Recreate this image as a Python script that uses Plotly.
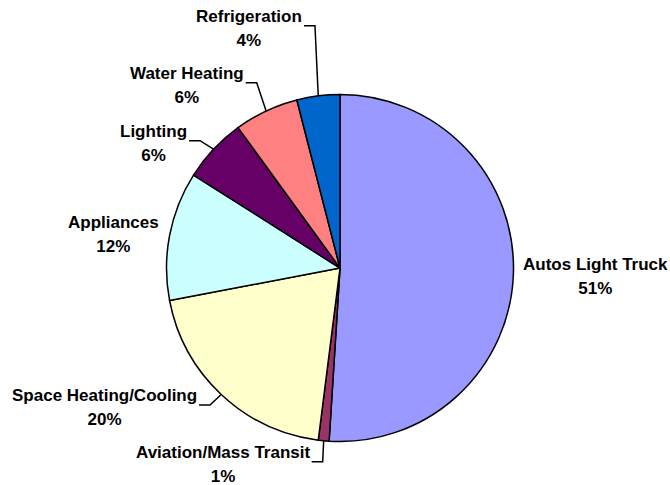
import math
import plotly.graph_objects as go

# ---- data ----
categories = ["Autos Light Truck", "Aviation/Mass Transit", "Space Heating/Cooling",
              "Appliances", "Lighting", "Water Heating", "Refrigeration"]
shares = [51, 1, 20, 12, 6, 6, 4]
colors = ["#9999FF", "#993366", "#FFFFCC", "#CCFFFF", "#660066", "#FF8080", "#0066CC"]

# ---- layout / style ----
W, H = 670, 485
CX, CY, R = 340, 268, 173.5          # pie centre and radius in pixels
FONT = "Liberation Sans, Arial, sans-serif"
LEAD_LEN = 11                        # horizontal part of leader line
# (kind, dx, dy) offsets in pixels from the slice's mid-edge point
label_style = {
    "Autos Light Truck": ("left", 9.9, -8.9),
    "Aviation/Mass Transit": ("leader", -1.0, 21.0),
    "Space Heating/Cooling": ("leader", -11.2, 10.5),
    "Appliances": ("right", -10.3, -12.5),
    "Lighting": ("leader", -13.5, -8.5),
    "Water Heating": ("leader", -9.4, -28.3),
    "Refrigeration": ("leader", -3.3, -70.2),
}


def px(x):
    return x / W


def py(y):
    return 1 - y / H


fig = go.Figure(go.Pie(
    labels=categories,
    values=shares,
    sort=False,
    direction="clockwise",
    rotation=0,
    marker=dict(colors=colors, line=dict(color="black", width=1.5)),
    textinfo="none",
    hoverinfo="label+percent",
    showlegend=False,
    domain=dict(x=[px(CX - R), px(CX + R)], y=[py(CY + R), py(CY - R)]),
))

total = sum(shares)
cum = 0.0
annotations = []
shapes = []
for name, val in zip(categories, shares):
    mid = (cum + val / 2) / total * 2 * math.pi
    cum += val
    ax = CX + R * math.sin(mid)
    ay = CY - R * math.cos(mid)
    kind, dx, dy = label_style[name]
    text = (f"<span style='font-size:17px'>{name}</span><br>"
            f"<span style='font-size:17px'>{val}%</span>")
    if kind == "leader":
        ex, ey = ax + dx, ay + dy
        tx = ex - LEAD_LEN
        shapes.append(dict(
            type="path", xref="paper", yref="paper",
            path=f"M {px(ax)} {py(ay)} L {px(ex)} {py(ey)} L {px(tx)} {py(ey)}",
            line=dict(color="black", width=1.5),
        ))
        x_text, xanchor = tx - 2, "right"
        yname = ey - 9
    elif kind == "right":
        x_text, xanchor = ax + dx, "right"
        yname = ay + dy
    else:
        x_text, xanchor = ax + dx, "left"
        yname = ay + dy
    annotations.append(dict(
        x=px(x_text), y=py(yname + 12), xref="paper", yref="paper",
        xanchor=xanchor, yanchor="middle", align="center",
        text=text, showarrow=False, borderpad=0, borderwidth=0,
        font=dict(family=FONT, size=18.5, color="black", weight="bold"),
    ))

fig.update_layout(
    width=W, height=H, autosize=False,
    margin=dict(l=0, r=0, t=0, b=0),
    paper_bgcolor="white", plot_bgcolor="white",
    annotations=annotations, shapes=shapes,
)

fig.write_html("out.html")
